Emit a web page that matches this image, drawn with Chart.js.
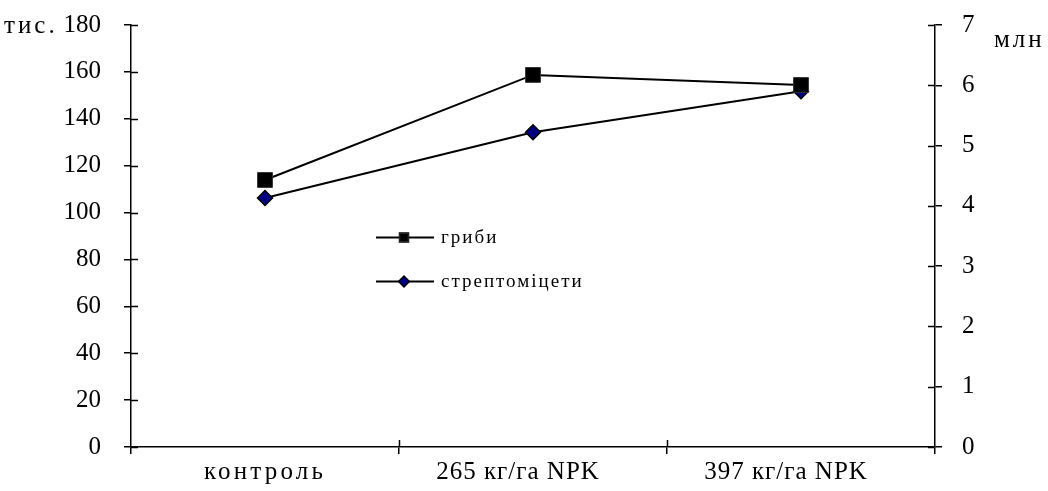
<!DOCTYPE html>
<html>
<head>
<meta charset="utf-8">
<script src="https://cdn.jsdelivr.net/npm/chart.js@4/dist/chart.umd.min.js"></script>
<style>
html,body{margin:0;padding:0;background:#fff;}
#wrap{width:1048px;height:491px;position:relative;}
</style>
</head>
<body>
<div id="wrap"><canvas id="c" width="1048" height="491"></canvas></div>
<script>
const categories = ['контроль', '265 кг/га NPK', '397 кг/га NPK'];
const fungi = [113.9, 158.7, 154.4];        // тис.
const streptomycetes = [4.13, 5.22, 5.90];  // млн
const leftTicks = [0, 20, 40, 60, 80, 100, 120, 140, 160, 180];
const rightTicks = [0, 1, 2, 3, 4, 5, 6, 7];
const seriesNames = ['гриби', 'стрептоміцети'];
const leftUnit = 'тис.';
const rightUnit = 'млн';

const FONT = '"Liberation Serif", "Times New Roman", serif';
const TICK_IN = 7;

function spacedLabels(s) {
  if (s._spacedPatched) return;
  s._spacedPatched = true;
  const orig = s.drawLabels;
  s.drawLabels = function (area) {
    const ctx = this.ctx;
    const origFill = ctx.fillText;
    ctx.fillText = function (text, x, y, mw) {
      const hasDigits = /\d/.test(String(text));
      ctx.letterSpacing = hasDigits ? '1px' : '3.2px';
      const dx = hasDigits ? -15 : 0;
      return mw === undefined ? origFill.call(ctx, text, x + dx, y) : origFill.call(ctx, text, x + dx, y, mw);
    };
    try { orig.call(this, area); }
    finally { delete ctx.fillText; ctx.letterSpacing = '0px'; }
  };
}

function noPad(s) { s.paddingTop = 0; s.paddingBottom = 0; }

const crossTicks = {
  id: 'crossTicks',
  afterDraw(chart) {
    const ctx = chart.ctx;
    const a = chart.chartArea;
    ctx.save();
    ctx.strokeStyle = '#000';
    ctx.lineWidth = 1.5;
    ctx.beginPath();
    const y = chart.scales.y, y1 = chart.scales.y1, x = chart.scales.x;
    y.ticks.forEach((t, i) => {
      const p = Math.round(y.getPixelForTick(i)) + 0.5;
      ctx.moveTo(a.left, p); ctx.lineTo(a.left + TICK_IN, p);
    });
    y1.ticks.forEach((t, i) => {
      const p = Math.round(y1.getPixelForTick(i)) + 0.5;
      ctx.moveTo(a.right, p); ctx.lineTo(a.right - TICK_IN, p);
    });
    for (let i = 1; i < categories.length; i++) {
      const p = Math.round((x.getPixelForValue(i - 1) + x.getPixelForValue(i)) / 2) + 0.5;
      ctx.moveTo(p, a.bottom); ctx.lineTo(p, a.bottom - TICK_IN);
    }
    ctx.stroke();

    // unit labels
    ctx.fillStyle = '#000';
    ctx.letterSpacing = '3px';
    ctx.font = '25px ' + FONT;
    ctx.textBaseline = 'alphabetic';
    ctx.textAlign = 'left';
    ctx.fillText(leftUnit, 4, 33);
    ctx.fillText(rightUnit, 994, 47);

    // legend
    const items = [[237, 0], [281, 1]];
    ctx.font = '19px ' + FONT;
    ctx.letterSpacing = '2px';
    items.forEach(([ly, di]) => {
      const ds = chart.data.datasets[di];
      ctx.strokeStyle = '#000';
      ctx.lineWidth = 2;
      ctx.beginPath();
      ctx.moveTo(376, ly + 0.5); ctx.lineTo(434, ly + 0.5);
      ctx.stroke();
      Chart.helpers.drawPoint(ctx, {
        pointStyle: ds.pointStyle,
        radius: di === 0 ? 6 : 5,
        borderWidth: 1
      }, 404, ly + 0.5);
      ctx.fillStyle = ds.pointBackgroundColor;
      ctx.strokeStyle = ds.pointBorderColor;
      ctx.lineWidth = 1;
      ctx.fill(); ctx.stroke();
      ctx.fillStyle = '#000';
      ctx.textBaseline = 'middle';
      ctx.fillText(seriesNames[di], 441, ly + 1);
    });
    ctx.restore();
  }
};

new Chart(document.getElementById('c'), {
  type: 'line',
  data: {
    labels: categories,
    datasets: [
      {
        label: seriesNames[0],
        data: fungi,
        yAxisID: 'y',
        borderColor: '#000',
        borderWidth: 2,
        pointStyle: 'rect',
        pointRadius: 10.5,
        pointBackgroundColor: '#000',
        pointBorderColor: '#333',
        pointBorderWidth: 1,
        tension: 0
      },
      {
        label: seriesNames[1],
        data: streptomycetes,
        yAxisID: 'y1',
        borderColor: '#000',
        borderWidth: 2,
        pointStyle: 'rectRot',
        pointRadius: 7.5,
        pointBackgroundColor: '#000080',
        pointBorderColor: '#000',
        pointBorderWidth: 1.5,
        tension: 0
      }
    ]
  },
  options: {
    responsive: false,
    animation: false,
    devicePixelRatio: 1,
    layout: { padding: { top: 25, left: 0, right: 0, bottom: 0 } },
    plugins: { legend: { display: false }, tooltip: { enabled: false } },
    scales: {
      x: {
        type: 'category',
        offset: true,
        afterFit(s) { s.height = 44; s.paddingLeft = 0; s.paddingRight = 0; },
        afterUpdate(s) { spacedLabels(s); },
        grid: { offset: true, drawOnChartArea: false, tickLength: 7, color: '#000', lineWidth: 1.5 },
        border: { display: true, color: '#000', width: 1.5 },
        ticks: { color: '#000', font: { family: FONT, size: 25 }, padding: 3, maxRotation: 0 }
      },
      y: {
        position: 'left',
        min: 0, max: 180,
        afterFit(s) { s.width = 131; noPad(s); },
        afterBuildTicks(s) { s.ticks = leftTicks.map(v => ({ value: v })); },
        grid: { drawOnChartArea: false, tickLength: 7, color: '#000', lineWidth: 1.5 },
        border: { display: true, color: '#000', width: 1.5 },
        ticks: { color: '#000', font: { family: FONT, size: 25 }, padding: 23 }
      },
      y1: {
        position: 'right',
        min: 0, max: 7,
        afterFit(s) { s.width = 113; noPad(s); },
        afterBuildTicks(s) { s.ticks = rightTicks.map(v => ({ value: v })); },
        grid: { drawOnChartArea: false, tickLength: 7, color: '#000', lineWidth: 1.5 },
        border: { display: true, color: '#000', width: 1.5 },
        ticks: { color: '#000', font: { family: FONT, size: 25 }, padding: 20 }
      }
    }
  },
  plugins: [crossTicks]
});
</script>
</body>
</html>
